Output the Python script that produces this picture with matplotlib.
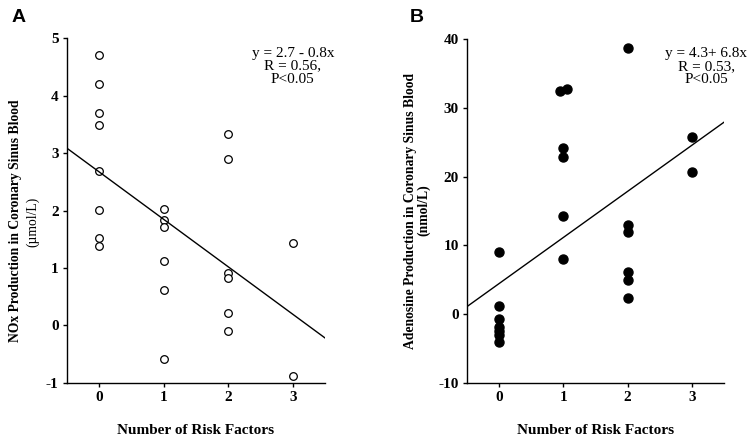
import matplotlib
matplotlib.use("Agg")
import matplotlib.pyplot as plt
import numpy as np

plt.rcParams["font.family"] = ["Liberation Serif", "DejaVu Serif"]
plt.rcParams["axes.unicode_minus"] = False

# Panel A: NOx production vs number of risk factors
nox_x = [0, 0, 0, 0, 0, 0, 0, 0,
         1, 1, 1, 1, 1, 1,
         2, 2, 2, 2, 2, 2,
         3, 3]
nox_y = [4.70, 4.20, 3.69, 3.49, 2.69, 2.01, 1.53, 1.38,
         2.02, 1.83, 1.72, 1.12, 0.61, -0.58,
         3.33, 2.89, 0.91, 0.83, 0.22, -0.09,
         1.43, -0.88]
nox_fit = [2.67, -0.825]  # intercept, slope of drawn line
nox_text = "y = 2.7 - 0.8x\nR = 0.56,\nP<0.05"

# Panel B: adenosine production vs number of risk factors
ado_x = [0, 0, 0, 0, 0, 0, 0,
         0.95, 1.05, 1, 1, 1, 1,
         2, 2, 2, 2, 2, 2,
         3, 3]
ado_y = [9.1, 1.2, -0.7, -1.8, -2.4, -3.0, -4.0,
         32.4, 32.7, 24.2, 22.8, 14.3, 8.0,
         38.7, 12.9, 11.9, 6.2, 5.0, 2.4,
         25.8, 20.7]
ado_fit = [4.45, 6.7]
ado_text = "y = 4.3+ 6.8x\nR = 0.53,\nP<0.05"

x_ticks = [0, 1, 2, 3]
nox_yticks = [-1, 0, 1, 2, 3, 4, 5]
ado_yticks = [-10, 0, 10, 20, 30, 40]

fig = plt.figure(figsize=(7.48, 4.42), dpi=100)
ax_a = fig.add_axes([0.0896, 0.1335, 0.345, 0.7805])
ax_b = fig.add_axes([0.6243, 0.1335, 0.3437, 0.7785])


def style_axis(ax, yticks, ylim):
    ax.set_xlim(-0.5, 3.5)
    ax.set_ylim(*ylim)
    ax.set_xticks(x_ticks)
    ax.set_yticks(yticks)
    ax.spines["top"].set_visible(False)
    ax.spines["right"].set_visible(False)
    for s in ["left", "bottom"]:
        ax.spines[s].set_linewidth(1.0)
    ax.tick_params(direction="out", length=3, width=1.0, labelsize=11, pad=3)
    for lab in ax.get_xticklabels() + ax.get_yticklabels():
        lab.set_fontweight("bold")
    ax.set_xlabel("Number of Risk Factors", fontsize=11, fontweight="bold", labelpad=14)


xs = np.array([-0.5, 3.5])

# A
style_axis(ax_a, nox_yticks, (-1, 5))
ax_a.plot(nox_x, nox_y, "o", mfc="white", mec="black", ms=5.5, mew=0.9, clip_on=False)
ax_a.plot(xs, nox_fit[0] + nox_fit[1] * xs, color="black", lw=1.0)
ax_a.text(0.875, 0.975, nox_text, transform=ax_a.transAxes, ha="center", va="top",
          fontsize=11, linespacing=1.0)
ax_a.set_ylabel("NOx Production in Coronary Sinus Blood", fontsize=9.8,
                fontweight="bold")
ax_a.yaxis.set_label_coords(-0.175, 0.47)
fig.text(0.044, 0.497, "(\u00b5mol/L)", rotation=90, ha="center", va="center",
         fontsize=9.8)
fig.text(0.016, 0.96, "A", fontsize=14, fontweight="bold",
         family=["Liberation Sans", "DejaVu Sans"], ha="left", va="center")

# B
style_axis(ax_b, ado_yticks, (-10, 40))
ax_b.plot(ado_x, ado_y, "o", mfc="black", mec="black", ms=6.5, clip_on=False)
ax_b.plot(xs, ado_fit[0] + ado_fit[1] * xs, color="black", lw=1.0)
ax_b.text(0.93, 0.975, ado_text, transform=ax_b.transAxes, ha="center", va="top",
          fontsize=11, linespacing=1.0)
ax_b.set_ylabel("Adenosine Production in Coronary Sinus Blood", fontsize=9.8,
                fontweight="bold")
ax_b.yaxis.set_label_coords(-0.195, 0.5)
fig.text(0.567, 0.525, "(nmol/L)", rotation=90, ha="center", va="center",
         fontsize=9.8, fontweight="bold")
fig.text(0.548, 0.96, "B", fontsize=14, fontweight="bold",
         family=["Liberation Sans", "DejaVu Sans"], ha="left", va="center")

fig.savefig("out.png", dpi=100)
